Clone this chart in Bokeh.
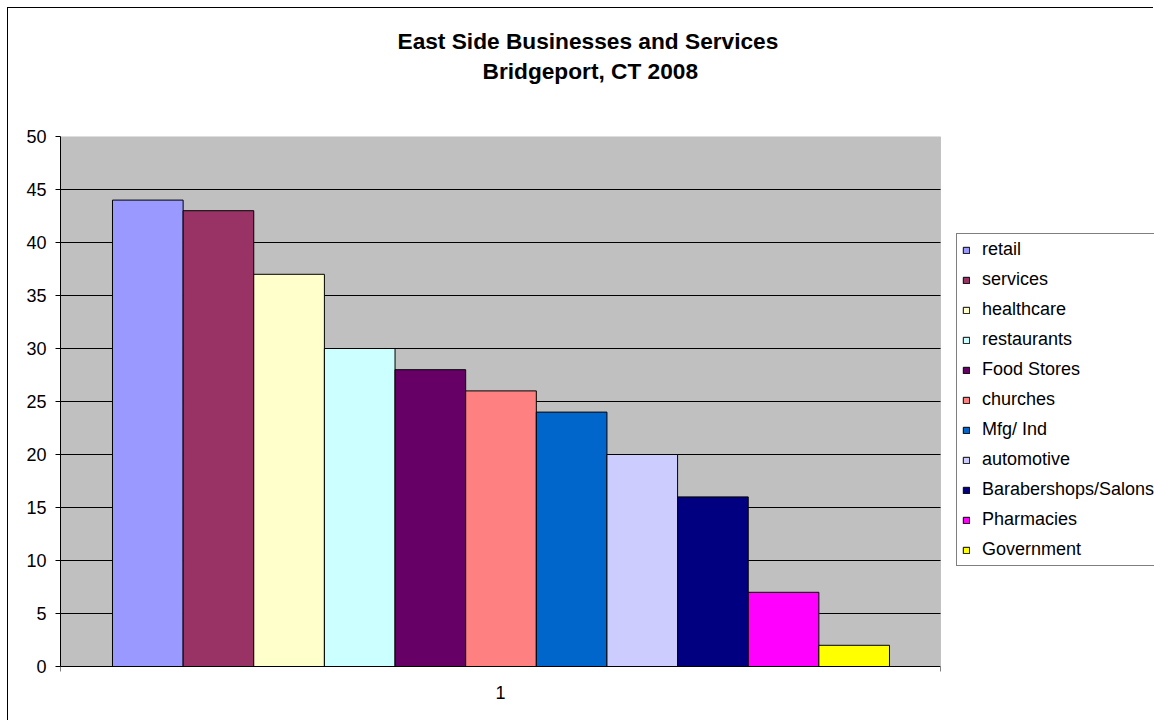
from bokeh.plotting import figure
from bokeh.models import (Range1d, FixedTicker, ColumnDataSource, Legend, LegendItem,
                          Title, BoxAnnotation)
from bokeh.embed import file_html
from bokeh.resources import INLINE

# ---- data ----
categories = ["retail", "services", "healthcare", "restaurants", "Food Stores", "churches",
              "Mfg/ Ind", "automotive", "Barabershops/Salons", "Pharmacies", "Government"]
values = [44, 43, 37, 30, 28, 26, 24, 20, 16, 7, 2]
colors = ["#9999FF", "#993366", "#FFFFCC", "#CCFFFF", "#660066", "#FF8080",
          "#0066CC", "#CCCCFF", "#000080", "#FF00FF", "#FFFF00"]
category_label = "1"
y_ticks = [0, 5, 10, 15, 20, 25, 30, 35, 40, 45, 50]
title_line1 = "East Side Businesses and Services"
title_line2 = "Bridgeport, CT 2008"

FONT = "Liberation Sans"

positions = list(range(len(values)))
source = ColumnDataSource(dict(x=positions, top=values, color=colors, category=categories))

# category span (the grey plot area) and an extended range so the legend fits in the frame
x_start, x_end = -1.236, len(values) - 1 + 1.222
x_center = (x_start + x_end) / 2
FRAME_LEFT, PLOT_RIGHT, FRAME_RIGHT = 60, 940, 1154
x_end_ext = x_start + (x_end - x_start) * (FRAME_RIGHT - FRAME_LEFT) / (PLOT_RIGHT - FRAME_LEFT)
y_max = y_ticks[-1]

p = figure(width=1146, height=713, output_backend="svg", toolbar_location=None,
           x_range=Range1d(x_start, x_end_ext), y_range=Range1d(0, y_max),
           min_border_left=52, min_border_right=0, min_border_top=128, min_border_bottom=55)
p.styles = {"border-left": "1px solid black", "border-top": "1px solid black",
            "margin": "7px 0px 0px 7px"}
p.background_fill_color = "white"
p.border_fill_color = "white"
p.outline_line_color = None

# grey plot area with grey border
p.add_layout(BoxAnnotation(left=x_start, right=x_end, bottom=0, top=y_max,
                           fill_color="#C0C0C0", fill_alpha=1.0,
                           line_color="#808080", line_width=1, level="underlay"))

# horizontal gridlines (inside the plot area only)
p.grid.visible = False
grid_vals = y_ticks[1:-1]
p.segment(x0=[x_start] * len(grid_vals), x1=[x_end] * len(grid_vals),
          y0=grid_vals, y1=grid_vals, line_color="black", line_width=1)

r = p.vbar(x="x", top="top", width=1.0, bottom=0, source=source,
           fill_color="color", line_color="black", line_width=1)

# y axis
p.yaxis.ticker = FixedTicker(ticks=y_ticks)
p.yaxis.axis_line_color = "black"
p.yaxis.major_tick_line_color = "black"
p.yaxis.major_tick_out = 5
p.yaxis.major_tick_in = 0
p.yaxis.minor_tick_line_color = None
p.yaxis.major_label_text_font = FONT
p.yaxis.major_label_text_font_size = "18px"
p.yaxis.major_label_text_color = "black"
p.yaxis.major_label_standoff = 9

# x axis: single category label, boundary ticks as minor ticks
p.xaxis.ticker = FixedTicker(ticks=[x_center], minor_ticks=[x_start, x_end])
p.xaxis.major_label_overrides = {x_center: category_label}
p.xaxis.bounds = (x_start, x_end)
p.xaxis.axis_line_color = "black"
p.xaxis.major_tick_out = 0
p.xaxis.major_tick_in = 0
p.xaxis.minor_tick_out = 5
p.xaxis.minor_tick_in = 0
p.xaxis.minor_tick_line_color = "#808080"
p.xaxis.major_label_text_font = FONT
p.xaxis.major_label_text_font_size = "18px"
p.xaxis.major_label_text_color = "black"
p.xaxis.major_label_standoff = 14

# titles (a blank spacer title keeps the two title lines clear of the plot area)
p.add_layout(Title(text=" ", text_font_size="1px", standoff=48), "above")
p.add_layout(Title(text=title_line2, align="left", offset=422, standoff=4,
                   text_font=FONT, text_font_size="22.7px", text_font_style="bold",
                   text_color="black"), "above")
p.add_layout(Title(text=title_line1, align="left", offset=337, standoff=0,
                   text_font=FONT, text_font_size="22.7px", text_font_style="bold",
                   text_color="black"), "above")

# legend
items = [LegendItem(label=c, renderers=[r], index=i) for i, c in enumerate(categories)]
legend = Legend(items=items, location=(896, 100), orientation="vertical",
                glyph_width=8, glyph_height=8, label_standoff=12, padding=5, spacing=9,
                label_height=20, margin=0,
                label_text_font=FONT, label_text_font_size="18px", label_text_color="black",
                border_line_color="black", border_line_width=1,
                background_fill_color="white", background_fill_alpha=1.0)
p.add_layout(legend, "center")

open("out.html", "w").write(file_html(p, INLINE))
